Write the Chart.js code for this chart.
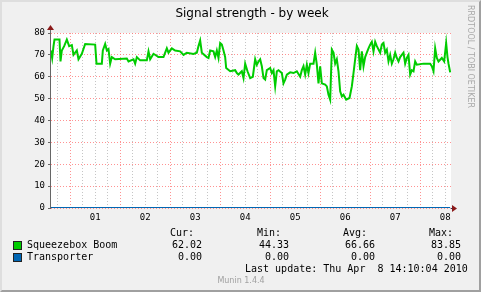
<!DOCTYPE html>
<html>
<head>
<meta charset="utf-8">
<script src="https://cdn.jsdelivr.net/npm/chart.js@4/dist/chart.umd.min.js"></script>
<style>
  html, body { margin: 0; padding: 0; }
  body { width: 481px; height: 292px; position: relative; overflow: hidden; background: #f0f0f0; }
  #frame {
    position: absolute; left: 0; top: 0; width: 481px; height: 292px; box-sizing: border-box;
    border-left: 2px solid #dedede; border-top: 2px solid #dedede;
    border-right: 2px solid #a0a0a0; border-bottom: 2px solid #a0a0a0;
  }
  canvas { position: absolute; left: 0; top: 0; }
  .t { position: absolute; white-space: pre; line-height: 12px; color: #000; }
  .mono { font: 10px "DejaVu Sans Mono", monospace; }
  .r { text-align: right; }
  .sw { position: absolute; width: 7px; height: 7px; border: 1px solid #222; }
</style>
</head>
<body>
<div id="frame"></div>
<canvas id="c" width="481" height="292"></canvas>

<div class="t" style="left:0;width:504px;top:6px;text-align:center;font:12px 'DejaVu Sans',sans-serif;">Signal strength - by week</div>
<div class="t" style="left:465px;top:5px;writing-mode:vertical-rl;font:8px 'DejaVu Sans',sans-serif;color:#a8a8a8;line-height:10px;">RRDTOOL / TOBI OETIKER</div>

<div id="legend"></div>
<div class="t mono" style="left:245px;top:263px;">Last update: Thu Apr  8 14:10:04 2010</div>
<div class="t" style="left:0;width:482px;top:276px;text-align:center;font:8px 'DejaVu Sans',sans-serif;color:#a0a0a0;">Munin 1.4.4</div>

<script>
// ── Data (hours from Apr 1 00:00) ─────────────────────────────────────────────

const boomHours = [
  -9.28, -8.64, -8.0, -7.52, -5.12, -4.64, -4.0, -2.88, -1.6, -0.48,
  0.8, 1.6, 3.2, 4.0, 5.6, 7.2, 12.0, 12.64, 15.2, 15.68,
  16.8, 17.6, 18.4, 19.2, 20.0, 21.6, 27.2, 28.0, 30.4, 31.2,
  32.0, 33.6, 36.8, 37.6, 38.4, 40.0, 42.4, 44.8, 45.6, 46.4,
  47.2, 48.8, 50.4, 52.8, 54.4, 56.0, 59.2, 60.8, 61.6, 62.4,
  63.2, 65.6, 66.4, 67.2, 68.8, 69.6, 70.4, 71.2, 72.0, 72.8,
  73.6, 74.4, 74.88, 76.8, 79.2, 80.0, 80.8, 82.4, 83.2, 84.0,
  85.12, 86.4, 87.68, 88.8, 89.6, 90.4, 91.2, 92.0, 92.8, 93.6,
  94.4, 96.0, 96.8, 97.6, 98.4, 99.2, 100.0, 101.6, 102.4, 103.2,
  104.0, 105.6, 107.2, 108.8, 110.4, 111.2, 112.0, 112.8, 113.6, 114.4,
  115.2, 116.8, 117.6, 118.4, 119.2, 120.0, 120.8, 122.4, 123.2, 124.0,
  124.8, 125.6, 126.4, 127.2, 128.0, 128.8, 129.6, 130.4, 131.2, 132.48,
  134.08, 135.2, 136.0, 136.8, 137.6, 138.4, 139.2, 140.0, 140.8, 141.6,
  142.4, 143.2, 144.0, 144.8, 145.6, 146.4, 147.2, 148.8, 149.6, 150.4,
  151.2, 152.0, 152.8, 153.6, 154.4, 155.2, 156.0, 156.8, 157.6, 158.4,
  160.0, 160.8, 161.6, 162.4, 163.2, 164.0, 164.8, 165.6, 166.4, 169.6,
  172.8, 173.6, 174.4, 175.2, 176.0, 176.8, 178.4, 179.52, 180.48, 181.12,
  181.6, 182.4,
];

const boomValues = [
  72, 68.5, 74, 77, 77, 67, 72, 74, 77, 74,
  74.5, 70, 72, 68, 70.5, 75, 74.7, 66, 66, 72,
  75, 72, 72.7, 66, 69, 68, 68.3, 67, 68, 66,
  69, 67.5, 67.5, 71.6, 68, 70.5, 69, 69, 71, 73,
  71, 73, 72, 71.6, 70, 71, 70.4, 71, 74, 76.6,
  71, 69, 68.6, 72, 71.6, 69, 72, 68.6, 75.4, 74.7,
  72, 69, 64, 62.5, 63, 61.7, 61, 62.5, 59.4, 66,
  62.5, 59.4, 60, 68, 65.5, 67, 68, 64.8, 59.4, 58.7,
  63, 64, 61.7, 63, 55.6, 62.5, 63, 61.7, 57, 58.7,
  61, 62, 61.7, 62.5, 60, 63, 64.8, 61, 65.5, 61.7,
  66, 66, 71, 65.5, 57, 64.8, 57, 56.4, 55.6, 51.8,
  49.5, 72.4, 71, 66, 68, 62.5, 53.3, 51, 51.8, 49.5,
  50.3, 55.6, 61.7, 68, 74, 72.4, 63, 71.6, 64.8, 69,
  71, 73, 74.7, 76, 71.6, 76, 74, 71, 74.7, 75.4,
  71, 72.4, 67, 70, 66, 68, 71, 68.6, 67, 69,
  71, 66, 68.6, 70, 61, 63, 62.5, 67, 65.5, 66,
  66, 64.8, 62.5, 73, 68.6, 67, 68.6, 67, 75.4, 69,
  66, 62.02,
];

const transporterHours  = [-9.2, 182.4];
const transporterValues = [0, 0];

const X_MIN = -9.2;
const X_MAX = 182.8;
const xGridHours = [-6, 0, 6, 12, 18, 24, 30, 36, 42, 48, 54, 60, 66, 72, 78, 84, 90, 96,
  102, 108, 114, 120, 126, 132, 138, 144, 150, 156, 162, 168, 174, 180];
const dayLabelHours = [12, 36, 60, 84, 108, 132, 156, 180];
const dayLabels     = ['01', '02', '03', '04', '05', '06', '07', '08'];

const legendCols  = ['Cur:', 'Min:', 'Avg:', 'Max:'];
const seriesNames = ['Squeezebox Boom', 'Transporter'];
const seriesColors = ['#00cc00', '#0066b3'];
const seriesStats = [
  ['62.02', '44.33', '66.66', '83.85'],
  ['0.00', '0.00', '0.00', '0.00'],
];

// ── Legend (HTML text) ────────────────────────────────────────────────────────

const headRight = [194, 281, 367, 453];
const valRight  = [202, 289, 375, 461];
const rowY      = [239, 251];
let html = '';
legendCols.forEach((c, i) => {
  html += `<div class="t mono r" style="right:${481 - headRight[i]}px;top:227px;">${c}</div>`;
});
seriesNames.forEach((n, r) => {
  html += `<div class="sw" style="left:13px;top:${rowY[r] + 2}px;background:${seriesColors[r]};"></div>`;
  html += `<div class="t mono" style="left:27px;top:${rowY[r]}px;">${n}</div>`;
  seriesStats[r].forEach((v, i) => {
    html += `<div class="t mono r" style="right:${481 - valRight[i]}px;top:${rowY[r]}px;">${v}</div>`;
  });
});
document.getElementById('legend').innerHTML = html;

// ── Chart ─────────────────────────────────────────────────────────────────────

const MAJOR = 'rgba(255,110,110,0.75)';
const MINOR = 'rgba(150,150,150,0.55)';
const AXIS_FONT = { family: '"DejaVu Sans Mono", monospace', size: 9 };

const axesPlugin = {
  id: 'rrdAxes',
  afterDatasetsDraw(chart) {
    const { ctx, chartArea: a } = chart;
    ctx.save();
    ctx.strokeStyle = '#666';
    ctx.lineWidth = 1;
    ctx.beginPath();
    ctx.moveTo(a.left - 0.5, a.bottom + 1);
    ctx.lineTo(a.left - 0.5, a.top - 4);
    ctx.stroke();
    ctx.strokeStyle = '#1a3d66';
    ctx.beginPath();
    ctx.moveTo(a.right, a.bottom + 0.5);
    ctx.lineTo(a.right + 2, a.bottom + 0.5);
    ctx.stroke();
    ctx.fillStyle = '#8b1a1a';
    ctx.beginPath();
    ctx.moveTo(a.left - 4, a.top - 3);
    ctx.lineTo(a.left + 3, a.top - 3);
    ctx.lineTo(a.left - 0.5, a.top - 8);
    ctx.closePath();
    ctx.fill();
    ctx.beginPath();
    ctx.moveTo(a.right + 1, a.bottom - 3);
    ctx.lineTo(a.right + 1, a.bottom + 4);
    ctx.lineTo(a.right + 6, a.bottom + 0.5);
    ctx.closePath();
    ctx.fill();
    ctx.restore();
  },
};

const bgPlugin = {
  id: 'plotBg',
  beforeDraw(chart) {
    const { ctx, chartArea: a } = chart;
    ctx.save();
    ctx.fillStyle = '#ffffff';
    ctx.fillRect(a.left, a.top, a.right - a.left, a.bottom - a.top);
    ctx.restore();
  },
};

new Chart(document.getElementById('c'), {
  type: 'line',
  data: {
    datasets: [
      {
        label: seriesNames[1],
        data: transporterHours.map((h, i) => ({ x: h, y: transporterValues[i] })),
        borderColor: seriesColors[1],
        borderWidth: 2,
        pointRadius: 0,
        order: 1,
      },
      {
        label: seriesNames[0],
        data: boomHours.map((h, i) => ({ x: h, y: boomValues[i] })),
        borderColor: seriesColors[0],
        borderWidth: 2,
        pointRadius: 0,
        tension: 0,
        order: 0,
      },
    ],
  },
  options: {
    responsive: false,
    animation: false,
    events: [],
    layout: { padding: { left: 0, top: 33, right: 30, bottom: 64 } },
    plugins: { legend: { display: false }, tooltip: { enabled: false }, title: { display: false } },
    scales: {
      x: {
        type: 'linear',
        min: X_MIN,
        max: X_MAX,
        afterBuildTicks: s => { s.ticks = xGridHours.map(v => ({ value: v })); },
        afterFit: s => { s.height = 20; },
        ticks: {
          autoSkip: false,
          maxRotation: 0,
          padding: 4,
          color: '#000',
          font: AXIS_FONT,
          callback: v => {
            const i = dayLabelHours.indexOf(v);
            return i >= 0 ? dayLabels[i] : '';
          },
        },
        grid: {
          drawTicks: false,
          color: c => (c.tick && c.tick.value % 24 === 0 ? MAJOR : MINOR),
        },
        border: { display: false, dash: [1, 2] },
      },
      y: {
        min: 0,
        max: 80,
        afterFit: s => { s.width = 51; },
        ticks: {
          stepSize: 5,
          padding: 3,
          color: '#000',
          font: AXIS_FONT,
          callback: v => (v % 10 === 0 ? v : ''),
        },
        grid: {
          tickLength: 3,
          tickColor: c => (c.tick && c.tick.value % 10 === 0 ? '#666' : 'rgba(0,0,0,0)'),
          color: c => (c.tick && c.tick.value % 10 === 0 ? MAJOR : MINOR),
        },
        border: { display: false, dash: [1, 2] },
      },
    },
  },
  plugins: [bgPlugin, axesPlugin],
});
</script>
</body>
</html>
